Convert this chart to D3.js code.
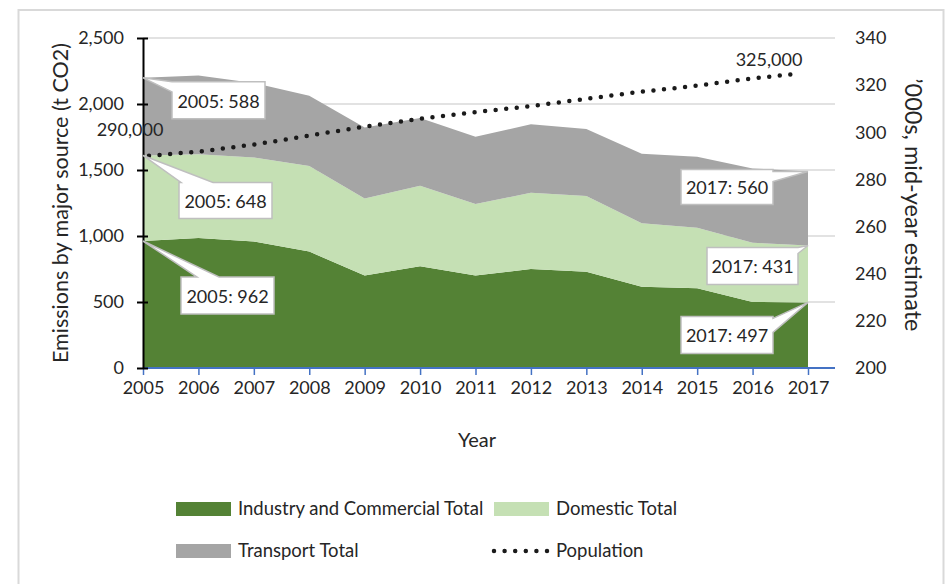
<!DOCTYPE html>
<html>
<head>
<meta charset="utf-8">
<script src="https://cdn.jsdelivr.net/npm/d3@7"></script>
<style>
  html, body { margin: 0; padding: 0; background: #fff; }
  svg { display: block; font-family: Lato, "Open Sans", sans-serif; }
  text { fill: #262626; }
</style>
</head>
<body>
<svg id="chart" width="946" height="584"></svg>
<script>
// data (t CO2, population in thousands)
var years = [2005, 2006, 2007, 2008, 2009, 2010, 2011, 2012, 2013, 2014, 2015, 2016, 2017]
var industry = [962, 985, 958, 882, 700, 770, 700, 750, 730, 616, 604, 500, 497]
var domestic = [648, 635, 637, 648, 585, 611, 542, 578, 573, 480, 459, 449, 431]
var transport = [588, 595, 565, 532, 537, 513, 510, 518, 508, 528, 538, 563, 560]
var population = [290, 292, 295, 298.8, 302.5, 305.8, 308.5, 311, 314, 317, 319.5, 322.5, 325]
var leftTicks = [0, 500, 1000, 1500, 2000, 2500]
var rightTicks = [200, 220, 240, 260, 280, 300, 320, 340]

var seriesNames = ['Industry and Commercial Total', 'Domestic Total', 'Transport Total']
var colors = ['#548235', '#C5E0B4', '#A5A5A5']

;(function (d3) {
  var svg = d3.select('#chart')
  var fontSize = 18

  var left = 143, right = 808, plotRight = 835, top = 38, bottom = 368

  var x = d3.scaleLinear().domain([2005, 2017]).range([left, right])
  var xPop = d3.scaleLinear().domain([2005, 2017]).range([149, 800])
  var y = d3.scaleLinear().domain([0, 2500]).range([bottom, top])
  var y2 = d3.scaleLinear().domain([200, 340]).range([bottom, top])

  // outer border
  svg.append('rect')
    .attr('x', 18.5).attr('y', 10).attr('width', 925).attr('height', 600)
    .attr('fill', 'none').attr('stroke', '#D9D9D9').attr('stroke-width', 2)

  // gridlines
  svg.append('g').selectAll('line')
    .data(leftTicks.slice(1))
    .enter().append('line')
    .attr('x1', left).attr('x2', plotRight)
    .attr('y1', function (d) { return y(d) })
    .attr('y2', function (d) { return y(d) })
    .attr('stroke', '#D9D9D9').attr('stroke-width', 1.5)

  // stacked areas
  var table = years.map(function (yr, i) {
    return {year: yr, ind: industry[i], dom: domestic[i], tra: transport[i]}
  })
  var stack = d3.stack().keys(['ind', 'dom', 'tra'])
  var layers = stack(table)

  var area = d3.area()
    .x(function (d) { return x(d.data.year) })
    .y0(function (d) { return y(d[0]) })
    .y1(function (d) { return y(d[1]) })

  svg.append('g').selectAll('path')
    .data(layers)
    .enter().append('path')
    .attr('d', area)
    .attr('fill', function (d, i) { return colors[i] })

  // bottom axis (blue)
  var xAxis = d3.axisBottom(x)
    .tickValues(years)
    .tickFormat(d3.format('d'))
    .tickSizeInner(7).tickSizeOuter(0).tickPadding(6)
  var gx = svg.append('g').attr('transform', 'translate(0,' + bottom + ')').call(xAxis)
  gx.select('.domain').remove()
  gx.append('line').attr('x1', left).attr('x2', plotRight).attr('y1', 0).attr('y2', 0)
    .attr('stroke', '#4472C4').attr('stroke-width', 2)
  gx.selectAll('.tick line').attr('stroke', '#4472C4').attr('stroke-width', 1.5)
  gx.selectAll('.tick text').attr('font-size', fontSize).attr('fill', '#262626')
    .attr('font-family', 'Lato, sans-serif')

  // left axis
  var yAxis = d3.axisLeft(y)
    .tickValues(leftTicks)
    .tickFormat(d3.format(','))
    .tickSizeInner(6).tickSizeOuter(0).tickPadding(13)
  var gy = svg.append('g').attr('transform', 'translate(' + left + ',0)').call(yAxis)
  gy.select('.domain').attr('stroke', '#000').attr('stroke-width', 2)
  gy.selectAll('.tick line').attr('x1', 5).attr('stroke', '#000').attr('stroke-width', 2)
  gy.selectAll('.tick text').attr('font-size', fontSize).attr('fill', '#262626')
    .attr('font-family', 'Lato, sans-serif')

  // right axis
  var y2Axis = d3.axisRight(y2)
    .tickValues(rightTicks)
    .tickSize(0).tickPadding(20)
  var gy2 = svg.append('g').attr('transform', 'translate(' + plotRight + ',0)').call(y2Axis)
  gy2.select('.domain').remove()
  gy2.selectAll('.tick text').attr('font-size', fontSize).attr('fill', '#262626')
    .attr('font-family', 'Lato, sans-serif')

  // population dotted line
  var popLine = d3.line()
    .x(function (d, i) { return xPop(years[i]) })
    .y(function (d) { return y2(d) })
  svg.append('path')
    .datum(population)
    .attr('d', popLine)
    .attr('fill', 'none')
    .attr('stroke', '#1a1a1a')
    .attr('stroke-width', 4.5)
    .attr('stroke-linecap', 'round')
    .attr('stroke-dasharray', '0 10.6')

  var popFmt = d3.format(',')
  svg.append('text')
    .attr('x', xPop(years[0]) - 19).attr('y', y2(population[0]) - 20)
    .attr('text-anchor', 'middle').attr('font-size', fontSize)
    .text(popFmt(population[0] * 1000))
  svg.append('text')
    .attr('x', xPop(years[years.length - 1]) - 31).attr('y', y2(population[population.length - 1]) - 7)
    .attr('text-anchor', 'middle').attr('font-size', fontSize)
    .text(popFmt(population[population.length - 1] * 1000))

  // callouts on first and last values
  var first = 0, last = years.length - 1
  function topOf(series, i) { return layers[series][i][1] }
  var callouts = [
    {i: first, s: 2, v: transport[first], dx: 29, dy: 4, w: 93, h: 37, side: 'left', a: 0, b: 10},
    {i: first, s: 1, v: domestic[first], dx: 36, dy: 27, w: 93, h: 36, side: 'top', a: 2, b: 34},
    {i: first, s: 0, v: industry[first], dx: 38, dy: 36, w: 93, h: 37, side: 'top', a: 16, b: 38},
    {i: last, s: 2, v: transport[last], dx: -127, dy: -2, w: 92, h: 35, side: 'right', a: 2, b: 12},
    {i: last, s: 1, v: domestic[last], dx: -101, dy: 2, w: 91, h: 37, side: 'right', a: 0, b: 6},
    {i: last, s: 0, v: industry[last], dx: -127, dy: 14, w: 92, h: 37, side: 'right', a: 2, b: 16}
  ]

  function calloutPath (bx, by, w, h, tx, ty, side, a, b) {
    var p = 'M' + bx + ',' + by
    if (side === 'top') p += 'L' + (bx + a) + ',' + by + 'L' + tx + ',' + ty + 'L' + (bx + b) + ',' + by
    p += 'L' + (bx + w) + ',' + by
    if (side === 'right') p += 'L' + (bx + w) + ',' + (by + a) + 'L' + tx + ',' + ty + 'L' + (bx + w) + ',' + (by + b)
    p += 'L' + (bx + w) + ',' + (by + h) + 'L' + bx + ',' + (by + h)
    if (side === 'left') p += 'L' + bx + ',' + (by + b) + 'L' + tx + ',' + ty + 'L' + bx + ',' + (by + a)
    return p + 'Z'
  }

  var cg = svg.append('g').selectAll('g')
    .data(callouts)
    .enter().append('g')

  cg.append('path')
    .attr('d', function (d) {
      var tx = x(years[d.i]), ty = y(topOf(d.s, d.i))
      return calloutPath(tx + d.dx, ty + d.dy, d.w, d.h, tx, ty, d.side, d.a, d.b)
    })
    .attr('fill', '#fff').attr('stroke', '#BFBFBF').attr('stroke-width', 1.5)
    .attr('stroke-linejoin', 'miter')

  cg.append('text')
    .attr('x', function (d) { return x(years[d.i]) + d.dx + d.w / 2 })
    .attr('y', function (d) { return y(topOf(d.s, d.i)) + d.dy + d.h / 2 + 1 })
    .attr('dy', '0.35em')
    .attr('text-anchor', 'middle').attr('font-size', fontSize)
    .text(function (d) { return years[d.i] + ': ' + d.v })

  // axis titles
  svg.append('text')
    .attr('transform', 'translate(68,' + ((top + bottom) / 2) + ') rotate(-90)')
    .attr('text-anchor', 'middle').attr('font-size', 21.5)
    .text('Emissions by major source (t CO2)')
  svg.append('text')
    .attr('transform', 'translate(905,' + ((top + bottom) / 2 + 2) + ') rotate(90)')
    .attr('text-anchor', 'middle').attr('font-size', 23.5)
    .text('\u2019000s, mid-year estimate')
  svg.append('text')
    .attr('x', 477).attr('y', 447)
    .attr('text-anchor', 'middle').attr('font-size', 20)
    .text('Year')

  // legend
  var legend = [
    {name: seriesNames[0], color: colors[0], x: 176, y: 509},
    {name: seriesNames[1], color: colors[1], x: 494, y: 509},
    {name: seriesNames[2], color: colors[2], x: 176, y: 551},
    {name: 'Population', color: null, x: 494, y: 551}
  ]
  var lg = svg.append('g').selectAll('g')
    .data(legend)
    .enter().append('g')
    .attr('transform', function (d) { return 'translate(' + d.x + ',' + d.y + ')' })

  lg.filter(function (d) { return d.color })
    .append('rect')
    .attr('x', 0).attr('y', -7).attr('width', 55).attr('height', 14)
    .attr('fill', function (d) { return d.color })

  lg.filter(function (d) { return !d.color })
    .append('line')
    .attr('x1', 0).attr('x2', 55).attr('y1', 0).attr('y2', 0)
    .attr('stroke', '#1a1a1a').attr('stroke-width', 4.5)
    .attr('stroke-linecap', 'round').attr('stroke-dasharray', '0 10.6')

  lg.append('text')
    .attr('x', 62).attr('y', 0).attr('dy', '0.35em')
    .attr('font-size', 18.5)
    .text(function (d) { return d.name })
})(window.d3)
</script>
</body>
</html>
